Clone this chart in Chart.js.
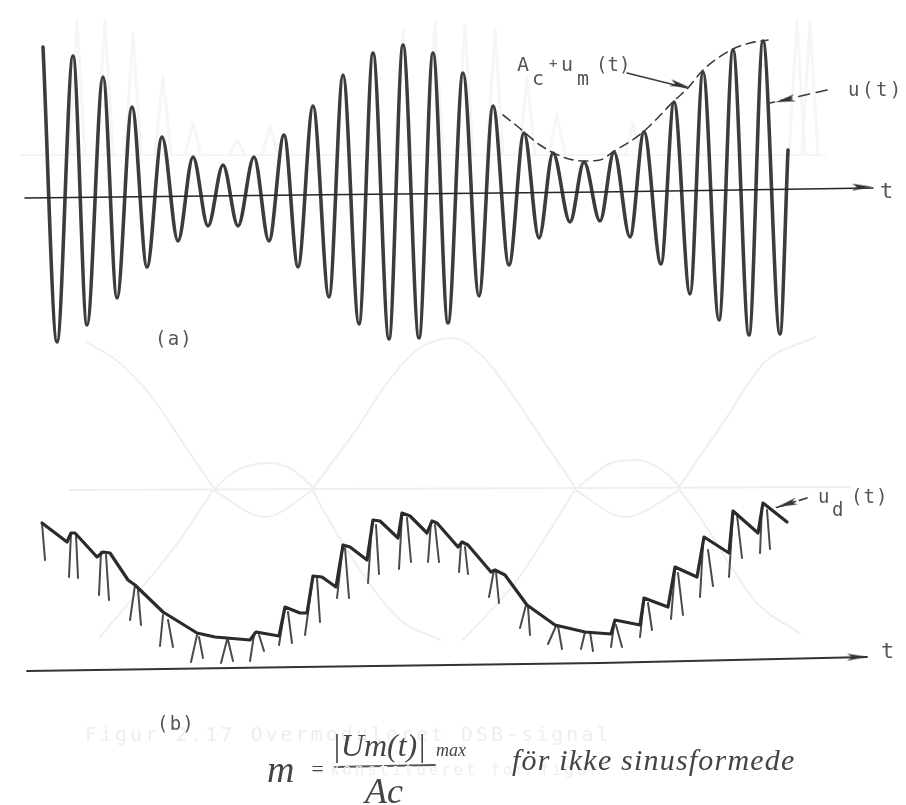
<!DOCTYPE html>
<html>
<head>
<meta charset="utf-8">
<title>Overmoduleret DSB-signal</title>
<script src="https://cdn.jsdelivr.net/npm/chart.js"></script>
<style>
    html, body { margin: 0; padding: 0; background: #fff; }
    /* The reference is a soft scan */
    canvas { display: block; filter: blur(0.6px); }
</style>
</head>
<body>
<canvas id="chart" width="906" height="805"></canvas>
<script>
// Panel (a): turning points of u(t)
const waveT = [18, 32, 48, 62, 78, 92, 107, 122, 137, 153, 168, 183, 198, 213, 229, 244, 259, 273, 288, 304, 318, 334, 348, 364, 378, 394, 408, 423, 438, 454, 468, 484, 499, 514, 528, 545, 559, 575, 589, 605, 619, 636, 649, 665, 678, 694, 708, 724, 738, 755, 763];
const waveU = [150, -145, 141, -128, 120, -101, 90, -70, 60, -44, 40, -29, 32, -29, 40, -44, 62, -70, 91, -100, 122, -127, 144, -142, 152, -141, 144, -126, 124, -99, 91, -68, 64, -41, 44, -25, 35, -24, 45, -40, 65, -67, 95, -97, 125, -123, 147, -138, 156, -137, 47];

// Dashed envelope Ac + um(t)
const envT = [478, 492, 515, 538, 558, 575, 588, 618, 650, 663, 678, 708, 725, 743];
const envU = [82, 71, 52, 40, 36, 37, 45, 65, 97, 109, 127, 148, 154, 157];

// Panel (b): detector output ud(t)
const detT = [17, 42, 46, 50, 72, 78, 85, 103, 110, 138, 172, 190, 225, 231, 254, 260, 275, 282, 288, 297, 311, 318, 325, 342, 348, 355, 373, 377, 385, 402, 407, 412, 433, 437, 443, 466, 470, 480, 502, 530, 560, 586, 590, 615, 619, 643, 650, 672, 679, 704, 708, 733, 738, 762];
const detU = [148, 129, 138, 138, 114, 119, 118, 91, 86, 59, 38, 34, 31, 39, 35, 64, 58, 58, 95, 94, 84, 126, 124, 111, 151, 150, 133, 158, 155, 138, 150, 148, 124, 129, 126, 99, 101, 96, 66, 46, 39, 37, 51, 46, 73, 64, 104, 94, 134, 118, 160, 138, 168, 149];

// Legs of the rectified carrier under ud(t)
const legTopT = [17, 46, 51, 76, 81, 110, 113, 138, 143, 172, 174, 202, 203, 229, 234, 260, 263, 288, 292, 318, 320, 347, 351, 377, 382, 406, 410, 436, 440, 469, 471, 501, 503, 531, 533, 560, 565, 589, 591, 619, 623, 650, 653, 678, 683, 708, 712, 737, 742];
const legTopU = [148, 138, 136, 119, 116, 86, 81, 56, 51, 36, 34, 31, 31, 36, 36, 63, 59, 95, 93, 126, 123, 149, 146, 156, 153, 149, 146, 127, 124, 101, 99, 66, 64, 45, 45, 39, 39, 46, 46, 71, 68, 101, 98, 126, 121, 158, 156, 166, 161];
const legEndT = [20, 44, 53, 74, 84, 105, 116, 135, 148, 166, 178, 196, 208, 225, 239, 254, 267, 280, 295, 312, 324, 343, 354, 374, 386, 403, 414, 434, 443, 464, 474, 495, 505, 523, 537, 556, 568, 586, 597, 615, 627, 646, 658, 675, 688, 704, 717, 735, 745];
const legEndU = [111, 94, 93, 76, 71, 51, 46, 25, 24, 9, 13, 8, 10, 10, 20, 26, 28, 36, 49, 73, 73, 88, 97, 102, 109, 109, 109, 99, 97, 74, 68, 43, 36, 27, 22, 22, 20, 24, 24, 34, 41, 52, 56, 74, 85, 94, 113, 118, 122];

// Time axes
const axisAT = [0, 275, 575, 848];
const axisAU = [-1, 2, 5, 9];
const axisBT = [2, 275, 575, 842];
const axisBU = [0, 4, 8, 14];

// Fraction bar of the handwritten note
const barT = [310, 410];
const barU = [-570, -568];

// Pointer lines to the labels
const ptrEnvT = [602, 662];
const ptrEnvU = [124, 109];
const ptrWaveT = [802, 745];
const ptrWaveU = [107, 94];
const ptrDetT = [782, 750];
const ptrDetU = [173, 163];

// Show-through from the back of the page
const ghostBaseT = [-5, 800];
const ghostBaseU = [42, 42];
const ghostPeakT = [52, 80, 108, 138, 168, 212, 245, 378, 410, 440, 470, 502, 532, 608, 772, 785];
const ghostPeakU = [177, 177, 164, 120, 74, 57, 70, 167, 175, 172, 167, 120, 82, 74, 177, 177];
const ghostArcT = [61, 91, 127, 158, 188, null, 75, 155, 188, null, 188, 209, 242, 265, 288, null, 188, 240, 288, null, 288, 298, 372, 415, null, 288, 331, 362, 392, 428, 459, 489, 520, 550, null, 438, 492, 550, null, 550, 586, 612, 637, 655, null, 550, 600, 655, null, 655, 672, 732, 775, null, 655, 698, 739, 790, null, 45, 825];
const ghostArcU = [-145, -163, -200, -246, -290, null, -440, -343, -293, null, -293, -275, -266, -271, -290, null, -293, -320, -293, null, -293, -313, -420, -443, null, -291, -233, -186, -153, -141, -161, -200, -246, -290, null, -443, -383, -293, null, -293, -266, -263, -273, -290, null, -293, -320, -293, null, -293, -316, -406, -436, null, -288, -226, -166, -140, null, -293, -290];

const TYPE = '"DejaVu Sans Mono", monospace';
const HAND = 'italic {s}px "Liberation Serif", serif';

const labels = [
    { text: 'Figur 2.17 Overmoduleret DSB-signal', t: 60, u: -544, font: '20px ' + TYPE, gap: 3, color: '#eeeeee' },
    { text: 'konstitueret for figur', t: 305, u: -578, font: '16px ' + TYPE, gap: 2.7, color: '#eeeeee' },
    { text: '(a)', t: 130, u: -148, font: '19px ' + TYPE, gap: 1.2 },
    { text: '(b)', t: 132, u: -533, font: '19px ' + TYPE, gap: 1.2 },
    { text: 'A', t: 492, u: 126, font: '20px ' + TYPE },
    { text: 'c', t: 507, u: 112, font: '20px ' + TYPE },
    { text: '+', t: 524, u: 129, font: '14px ' + TYPE },
    { text: 'u', t: 536, u: 126, font: '20px ' + TYPE },
    { text: 'm', t: 552, u: 112, font: '20px ' + TYPE },
    { text: '(t)', t: 571, u: 126, font: '19px ' + TYPE, gap: 0 },
    { text: 'u(t)', t: 823, u: 101, font: '19px ' + TYPE, gap: 2.5 },
    { text: 't', t: 855, u: -1, font: '22px ' + TYPE },
    { text: 'u', t: 793, u: -306, font: '19px ' + TYPE },
    { text: 'd', t: 807, u: -319, font: '19px ' + TYPE },
    { text: '(t)', t: 826, u: -306, font: '19px ' + TYPE, gap: 1 },
    { text: 't', t: 856, u: -461, font: '22px ' + TYPE },
    { text: 'm', t: 242, u: -585, font: HAND.replace('{s}', 38), color: '#444444' },
    { text: '=', t: 285, u: -579, font: HAND.replace('{s}', 22), color: '#444444' },
    { text: '|Um(t)|', t: 307, u: -559, font: HAND.replace('{s}', 32), color: '#444444' },
    { text: 'max', t: 411, u: -559, font: HAND.replace('{s}', 18), color: '#444444' },
    { text: 'Ac', t: 340, u: -606, font: HAND.replace('{s}', 36), color: '#444444' },
    { text: 'för ikke sinusformede', t: 487, u: -573, font: HAND.replace('{s}', 30), gap: 1.2, color: '#444444' }
];

// Draws the typed and handwritten text through the scales
const labelPlugin = {
    id: 'pageLabels',
    afterDatasetsDraw(chart) {
        const { ctx, scales } = chart;
        ctx.save();
        ctx.textBaseline = 'alphabetic';
        labels.forEach(l => {
            ctx.font = l.font;
            ctx.letterSpacing = (l.gap || 0) + 'px';
            ctx.fillStyle = l.color || '#555555';
            ctx.fillText(l.text, scales.x.getPixelForValue(l.t), scales.ya.getPixelForValue(l.u));
        });
        ctx.restore();
    }
};

function zip(ts, us) {
    return ts.map((t, i) => ({ x: t, y: us[i] }));
}

function line(ts, us, color, width, extra) {
    return Object.assign({
        data: zip(ts, us),
        yAxisID: 'ya',
        borderColor: color,
        borderWidth: width,
        pointRadius: 0,
        fill: false,
        borderCapStyle: 'round',
        borderJoinStyle: 'round'
    }, extra || {});
}

// Slim arrow head, used as a point image
function arrowHead(len, wide) {
    const c = document.createElement('canvas');
    c.width = len;
    c.height = wide;
    const g = c.getContext('2d');
    g.fillStyle = '#333333';
    g.beginPath();
    g.moveTo(0, 0);
    g.lineTo(len, wide / 2);
    g.lineTo(0, wide);
    g.lineTo(len * 0.25, wide / 2);
    g.closePath();
    g.fill();
    return c;
}

// Every leg becomes its own segment, separated by a gap
const legPoints = [];
legTopT.forEach((t, i) => {
    legPoints.push({ x: t, y: legTopU[i] }, { x: legEndT[i], y: legEndU[i] }, { x: t, y: null });
});

const ghostPeakPoints = [];
ghostPeakT.forEach((t, i) => {
    ghostPeakPoints.push({ x: t - 8, y: 42 }, { x: t, y: ghostPeakU[i] }, { x: t + 8, y: 42 }, { x: t, y: null });
});

const GHOST = '#efefef';

// Chart.js paints the first dataset last, so the top layer comes first here
new Chart(document.getElementById('chart'), {
    type: 'line',
    data: {
        datasets: [
            // Arrow heads on the axes and pointers
            {
                data: zip([837, 655, 760], [10, 112, 97]),
                yAxisID: 'ya',
                showLine: false,
                pointStyle: arrowHead(20, 7),
                pointRotation: [-1, 14, 167],
                pointRadius: 8
            },
            {
                data: zip([832, 762], [14, 167]),
                yAxisID: 'yb',
                showLine: false,
                pointStyle: arrowHead(20, 7),
                pointRotation: [-1, 163],
                pointRadius: 8
            },

            line(barT, barU, '#555555', 1.8),

            line(ptrDetT, ptrDetU, '#3a3a3a', 1.6, { yAxisID: 'yb', borderDash: [8, 4] }),
            line(detT, detU, '#2b2b2b', 3.2, { yAxisID: 'yb' }),
            Object.assign(line([], [], '#4a4a4a', 2, { yAxisID: 'yb' }), { data: legPoints }),
            line(axisBT, axisBU, '#333333', 1.8, { yAxisID: 'yb' }),

            line(ptrWaveT, ptrWaveU, '#3a3a3a', 1.6, { borderDash: [11, 7] }),
            line(ptrEnvT, ptrEnvU, '#3a3a3a', 1.6),
            line(envT, envU, '#3a3a3a', 1.6, { borderDash: [9, 6], cubicInterpolationMode: 'monotone' }),
            line(axisAT, axisAU, '#262626', 1.6),
            line(waveT, waveU, '#3c3c3c', 3.6, { cubicInterpolationMode: 'monotone' }),

            line(ghostArcT, ghostArcU, GHOST, 2, { cubicInterpolationMode: 'monotone' }),
            Object.assign(line([], [], '#f6f6f6', 3), { data: ghostPeakPoints }),
            line(ghostBaseT, ghostBaseU, '#f4f4f4', 2)
        ]
    },
    options: {
        responsive: false,
        animation: false,
        layout: { padding: 0, autoPadding: false },
        plugins: { legend: { display: false }, tooltip: { enabled: false } },
        scales: {
            x: { type: 'linear', min: -25, max: 881, display: false },
            ya: { type: 'linear', min: -608, max: 197, display: false },
            yb: { type: 'linear', min: -134, max: 671, display: false }
        }
    },
    plugins: [labelPlugin]
});
</script>
</body>
</html>
